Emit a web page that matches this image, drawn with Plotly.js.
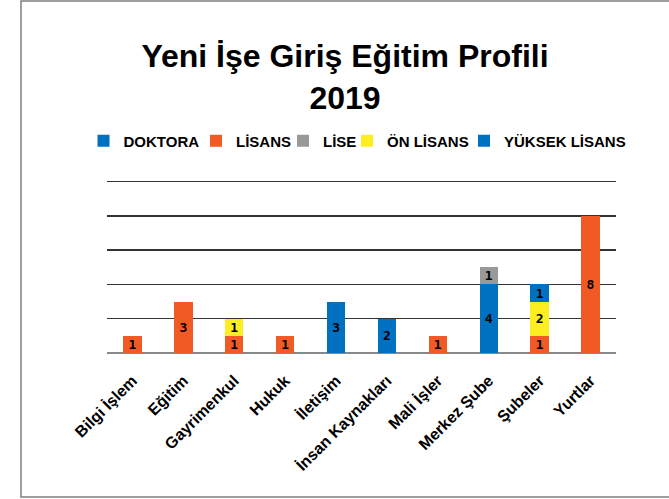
<!DOCTYPE html>
<html>
<head>
<meta charset="utf-8">
<script src="https://cdn.plot.ly/plotly-3.0.1.min.js"></script>
<style>html,body{margin:0;padding:0;background:#fff;}#chart{width:669px;height:499px;}</style>
</head>
<body>
<div id="chart"></div>
<script>
const categories = ['Bilgi İşlem','Eğitim','Gayrimenkul','Hukuk','İletişim','İnsan Kaynakları','Mali İşler','Merkez Şube','Şubeler','Yurtlar'];
const doktora      = [null, null, null, null, null, null, null, 4, null, null];
const lisans       = [1, 3, 1, 1, null, null, 1, null, 1, 8];
const lise         = [null, null, null, null, null, null, null, 1, null, null];
const onLisans     = [null, null, 1, null, null, null, null, null, 2, null];
const yuksekLisans = [null, null, null, null, 3, 2, null, null, 1, null];

const seriesNames = ['DOKTORA','LİSANS','LİSE','ÖN LİSANS','YÜKSEK LİSANS'];
const seriesData = [doktora, lisans, lise, onLisans, yuksekLisans];
const seriesColors = ['#0070C0','#F15A24','#999999','#FCEE21','#0070C0'];

const FONT = '"Liberation Sans", Arial, sans-serif';

const L = 107, R = 53, T = 180, B = 146;
const pw = 669 - L - R, ph = 499 - T - B;

// legend anchor positions (px) for each entry
const legendPx = [83.5, 196, 283, 347, 464];
const legendIds = ['legend','legend2','legend3','legend4','legend5'];

const traces = seriesNames.map((n, i) => ({
  type: 'bar',
  name: n,
  x: categories,
  y: seriesData[i],
  legend: legendIds[i],
  marker: {color: seriesColors[i], line: {width: 0}},
  texttemplate: '%{y}',
  textposition: 'inside',
  insidetextanchor: 'middle',
  textangle: 0,
  constraintext: 'none',
  textfont: {family: '"DejaVu Sans Mono", monospace', size: 13, color: '#000', weight: 'bold'},
  hoverinfo: 'x+y+name'
}));

const layout = {
  width: 669, height: 499,
  margin: {l: L, r: R, t: T, b: B, pad: 0},
  paper_bgcolor: '#fff', plot_bgcolor: '#fff',
  barmode: 'stack',
  bargap: 0.64,
  font: {family: FONT, color: '#000'},
  title: {
    text: 'Yeni İşe Giriş Eğitim Profili<br>2019',
    font: {family: FONT, size: 32, color: '#000', weight: 'bold'},
    x: 345/669, xanchor: 'center', xref: 'container',
    y: 1 - 67/499, yanchor: 'top', yref: 'container'
  },
  showlegend: true,
  xaxis: {
    type: 'category',
    tickangle: -45,
    tickfont: {family: FONT, size: 16, color: '#000', weight: 'bold'},
    showgrid: false, zeroline: false, showline: false,
    ticks: 'outside', ticklen: 11, tickcolor: 'rgba(0,0,0,0)'
  },
  yaxis: {
    range: [0, 10.1], dtick: 2,
    showticklabels: false,
    showgrid: true, gridcolor: '#333', gridwidth: 1.5,
    zeroline: true, zerolinecolor: '#888', zerolinewidth: 2,
    showline: false, ticks: ''
  },
  shapes: [{
    type: 'rect', xref: 'paper', yref: 'paper',
    x0: (21 - L)/pw, x1: (680 - L)/pw,
    y0: (353 - 497)/ph, y1: (353 - 1)/ph,
    line: {color: '#7f7f7f', width: 1.5}, fillcolor: 'rgba(0,0,0,0)', layer: 'below'
  }]
};

legendIds.forEach((id, i) => {
  layout[id] = {
    orientation: 'h',
    x: (legendPx[i] - L)/pw, xanchor: 'left',
    y: (353 - 141)/ph, yanchor: 'middle',
    font: {family: FONT, size: 15, color: '#000', weight: 'bold'},
    itemwidth: 30,
    bgcolor: 'rgba(0,0,0,0)'
  };
});

Plotly.newPlot('chart', traces, layout, {displayModeBar: false, staticPlot: true});
</script>
</body>
</html>
